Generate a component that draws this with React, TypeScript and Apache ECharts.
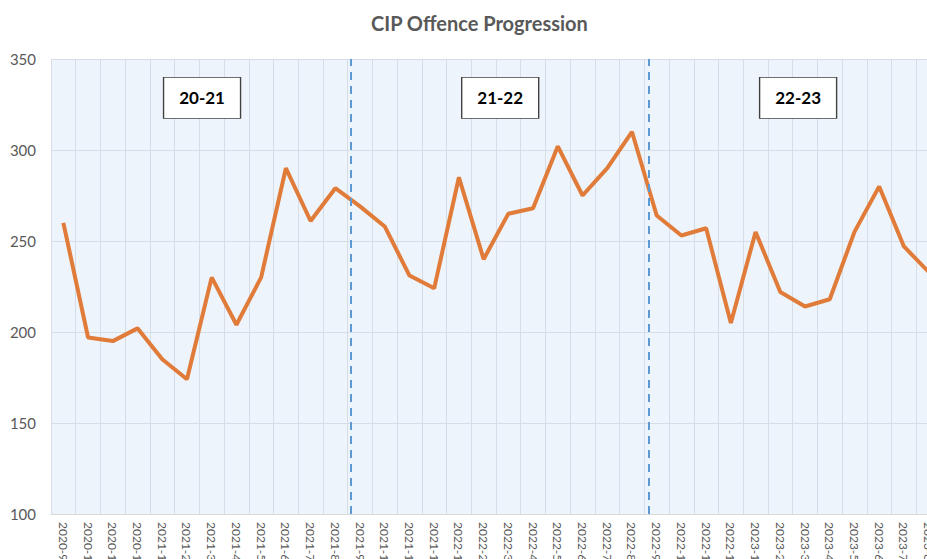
import React, { useEffect, useRef } from "react";
import * as echarts from "echarts";

const months = [
  "2020-9", "2020-10", "2020-11", "2020-12",
  "2021-1", "2021-2", "2021-3", "2021-4", "2021-5", "2021-6", "2021-7", "2021-8",
  "2021-9", "2021-10", "2021-11", "2021-12",
  "2022-1", "2022-2", "2022-3", "2022-4", "2022-5", "2022-6", "2022-7", "2022-8",
  "2022-9", "2022-10", "2022-11", "2022-12",
  "2023-1", "2023-2", "2023-3", "2023-4", "2023-5", "2023-6", "2023-7", "2023-8",
];

const offences = [
  260, 197, 195, 202, 185, 174, 230, 204, 230, 290, 261, 279,
  269, 258, 231, 224, 285, 240, 265, 268, 302, 275, 290, 310,
  264, 253, 257, 205, 255, 222, 214, 218, 255, 280, 247, 233,
];

const yTicks = { min: 100, max: 350, interval: 50 };

// period separators (in band units along the month axis)
const separators = [12.13, 24.19];

// period label boxes: [name, band position, value]
const periodLabels: [string, number, number][] = [
  ["20-21", 6.11, 328.6],
  ["21-22", 18.17, 328.6],
  ["22-23", 30.22, 328.6],
];

const FONT = "Lato, 'Noto Sans', sans-serif";

export default function App() {
  const ref = useRef<HTMLDivElement>(null);

  useEffect(() => {
    document.body.style.margin = "0";
    if (!ref.current) return;
    const chart = echarts.init(ref.current, null, { renderer: "svg" });
    chart.setOption({
      animation: false,
      textStyle: { fontFamily: FONT },
      title: {
        text: "CIP Offence Progression",
        left: 366,
        top: 8,
        textStyle: { fontFamily: FONT, fontSize: 20, fontWeight: "bold", color: "#595959" },
      },
      grid: {
        left: 51,
        right: -14,
        top: 59,
        bottom: 45,
        containLabel: false,
        outerBoundsMode: "none",
        show: true,
        backgroundColor: "#edf4fb",
        borderWidth: 0,
      },
      xAxis: [
        {
          type: "category",
          data: months,
          boundaryGap: true,
          axisTick: { show: false },
          axisLine: { lineStyle: { color: "#d9d9d9", width: 1 } },
          splitLine: { show: true, interval: 0, lineStyle: { color: "#d6dde6", width: 1 } },
          axisLabel: {
            interval: 0,
            rotate: -90,
            fontSize: 12,
            color: "#595959",
            margin: 8,
            fontFamily: FONT,
          },
        },
        { type: "value", min: 0, max: 36, show: false },
      ],
      yAxis: {
        type: "value",
        min: yTicks.min,
        max: yTicks.max,
        interval: yTicks.interval,
        axisLine: { show: false },
        axisTick: { show: false },
        splitLine: { lineStyle: { color: "#d6dde6", width: 1 } },
        axisLabel: { fontSize: 15, color: "#595959", margin: 15, fontFamily: FONT },
      },
      series: [
        {
          name: "helper",
          type: "line",
          xAxisIndex: 1,
          yAxisIndex: 0,
          data: [],
          z: 1,
          silent: true,
          markLine: {
            silent: true,
            symbol: ["none", "none"],
            label: { show: false },
            lineStyle: { color: "#5b9bd5", width: 2, type: [8, 6] },
            data: separators.map((s) => ({ xAxis: s })),
          },
          markPoint: {
            silent: true,
            symbol: "rect",
            symbolSize: [77, 41],
            itemStyle: { color: "#ffffff", borderColor: "#404040", borderWidth: 1 },
            label: {
              show: true,
              position: "inside",
              formatter: "{b}",
              color: "#000000",
              fontWeight: "bold",
              fontSize: 17,
              fontFamily: FONT,
            },
            data: periodLabels.map(([name, x, y]) => ({ name, coord: [x, y] })),
          },
        },
        {
          name: "CIP Offences",
          type: "line",
          data: offences,
          z: 3,
          symbol: "none",
          showSymbol: false,
          lineStyle: { color: "#e07b39", width: 4 },
          itemStyle: { color: "#e07b39" },
        },
      ],
    });
    return () => chart.dispose();
  }, []);

  return <div ref={ref} style={{ width: 927, height: 559, overflow: "hidden" }} />;
}
